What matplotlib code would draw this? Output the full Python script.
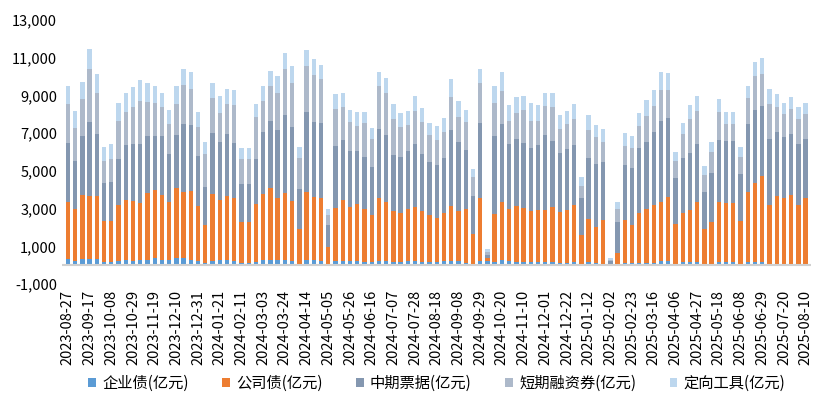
import matplotlib.pyplot as plt
import matplotlib.ticker as mticker
import numpy as np
import pandas as pd

plt.rcParams["font.family"] = ["Noto Sans CJK SC", "DejaVu Sans"]

# weekly dates
dates = pd.date_range("2023-08-27", "2025-08-10", freq="7D")

# cumulative stack tops (亿元)
top_qyz = [350,250,350,350,350,180,180,250,300,250,300,300,390,300,300,390,390,300,250,140,
           250,300,300,250,140,140,180,300,300,300,300,250,90,300,300,250,40,250,250,250,
           250,180,180,250,250,180,180,250,250,180,180,180,250,250,250,140,90,250,200,180,
           300,250,180,180,180,180,180,180,140,140,180,90,180,140,90,60,0,140,140,140,
           140,140,250,250,90,180,180,180,90,90,180,180,180,90,180,180,180,90,90,90,
           90,90,90]
top_gsz = [3340,3000,3730,3680,3680,2340,2340,3200,3470,3400,3290,3820,4000,3730,3340,4100,3870,3920,3150,2150,
           3780,3470,3680,3570,2290,2290,3270,3780,4100,3570,3820,3400,1940,3870,3610,3570,970,3040,3470,3100,
           3240,3000,2680,3570,3340,2870,2760,3000,3100,2870,2680,2520,2780,3150,2870,3000,1670,3570,400,2730,
           3340,3000,3150,3040,2870,2940,2940,3100,2830,2940,3200,1620,2460,2040,2410,60,670,2410,2150,2760,
           3000,3200,3360,3610,2200,2780,2940,3360,1940,2300,3360,3310,3310,2360,3890,4360,4730,3200,3680,3570,
           3730,3200,3570]
top_zqpj = [6480,5540,6860,7600,6950,4360,4420,5630,6370,6420,6420,6850,6850,6850,5900,6900,7480,7430,5790,4150,
            7000,6530,6950,6490,4310,4310,5630,7060,7660,7180,7950,7320,4050,8110,7590,7530,2150,6320,6640,6050,
            6050,5740,5210,7220,6900,5840,5740,6050,6420,5900,5470,5320,5680,7160,6530,6110,3680,7530,560,6850,
            7480,6420,6690,6480,6210,6370,6900,6580,5950,6160,6370,3570,5680,5370,5470,200,2300,5320,5160,6210,
            6530,7060,7640,7800,4630,5680,5950,6420,3890,4890,6640,6580,6580,4840,7480,8220,8430,6690,7060,6790,
            6950,6420,6690]
top_dqrz = [8540,7250,8800,10420,9150,5510,5630,7640,8130,8380,8690,8640,8590,8380,7460,8540,9540,9330,7320,5900,
            8850,8060,8540,8480,5630,5630,7830,8690,9490,9150,10420,9640,5680,10530,10100,9840,2680,8270,8360,7590,
            7370,7530,6690,9490,9150,7730,7320,7430,8170,7590,6900,6640,7060,8890,7830,7590,4680,9640,700,8590,
            9220,7640,8060,8200,7640,7640,8410,8360,7220,7480,7740,4210,7160,6790,6530,300,2990,6320,6210,7370,
            7900,8430,9280,9280,5510,6950,7740,8170,4790,5980,8110,7480,7480,5740,8850,10010,10120,8540,8380,8010,
            8270,7740,8010]
top_dxgj = [9470,8150,9730,11480,10150,6250,6400,8570,9150,9420,9790,9630,9470,9150,8200,9470,10420,10260,8100,6510,
            9680,8990,9360,9260,6200,6200,8520,9470,10310,10050,11260,10530,6250,11420,10950,10630,2990,9050,9100,8240,
            8100,8100,7250,10260,9940,8520,8040,8150,8940,8310,7520,7360,7780,9840,8680,8250,5090,10370,860,9470,
            10260,8470,8890,8940,8570,8470,9150,9150,7940,8150,8520,4680,7940,7410,7200,380,3340,6990,6830,8040,
            8730,9260,10210,10160,5980,7520,8470,8940,5250,6550,8780,8100,8100,6250,9520,10740,11000,9310,9050,8570,
            8890,8360,8570]

series = ["企业债(亿元)", "公司债(亿元)", "中期票据(亿元)", "短期融资券(亿元)", "定向工具(亿元)"]
colors = ["#5B9BD5", "#ED7D31", "#8497B0", "#ADB9CA", "#BDD7EE"]

tops = np.array([top_qyz, top_gsz, top_zqpj, top_dqrz, top_dxgj], dtype=float)
bottoms = np.vstack([np.zeros(len(dates)), tops[:-1]])
values = tops - bottoms

fig = plt.figure(figsize=(8.28, 4.13), dpi=100)
ax = fig.add_axes([0.075, 0.312, 0.905, 0.64])

x = np.arange(len(dates))
for i in range(5):
    ax.bar(x, values[i], bottom=bottoms[i], width=0.6, color=colors[i], label=series[i])

ax.set_ylim(-1000, 13000)
ax.set_yticks(np.arange(-1000, 13001, 2000))
ax.yaxis.set_major_formatter(mticker.FuncFormatter(lambda v, p: f"{int(v):,}"))
ax.set_xlim(-0.8, len(dates) - 0.2)
ax.set_xticks(x[::3])
ax.set_xticklabels([d.strftime("%Y-%m-%d") for d in dates[::3]], rotation=90)
ax.set_xticks(x, minor=True)

for s in ["top", "right", "left", "bottom"]:
    ax.spines[s].set_visible(False)
ax.axhline(0, color="#d0d0d0", lw=1.5)
ax.tick_params(axis="y", length=0, labelsize=10.5)
ax.tick_params(axis="x", which="both", length=0, labelsize=10.5, pad=4)

ax.legend(loc="center", bbox_to_anchor=(0.5, -0.375), ncol=5, frameon=False,
          fontsize=11, handlelength=0.5, handleheight=0.5, columnspacing=2.2, handletextpad=0.4)

fig.savefig("out.png", dpi=100)
